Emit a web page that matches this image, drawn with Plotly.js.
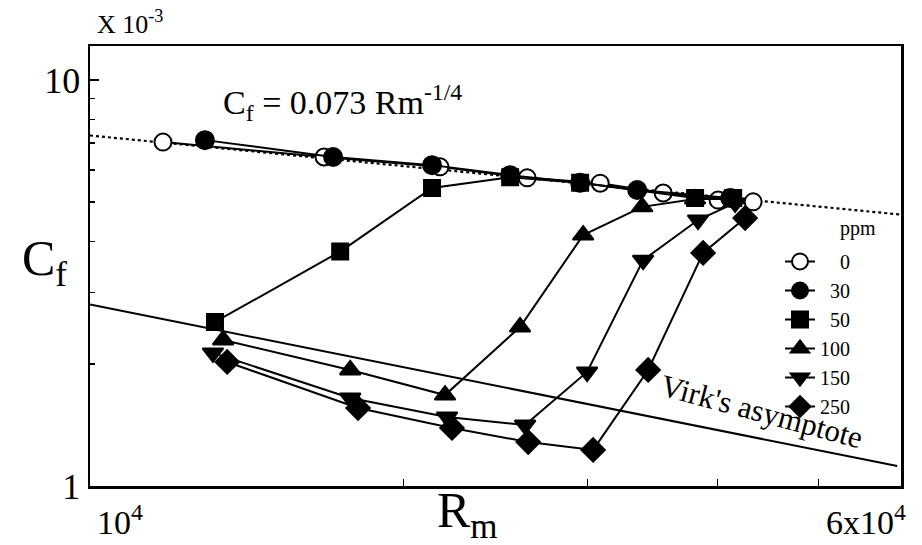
<!DOCTYPE html>
<html>
<head>
<meta charset="utf-8">
<script src="https://cdn.plot.ly/plotly-3.0.1.min.js"></script>
<style>html,body{margin:0;padding:0;background:#fff;}#chart{width:922px;height:545px;}</style>
</head>
<body>
<div id="chart"></div>
<script>
// ---- data (Rm, Cf x 10^-3) ----
const seriesNames = ['0', '30', '50', '100', '150', '250'];
const rm0   = [11750, 16770, 21670, 26270, 30870, 35480, 40050, 43280];
const cf0   = [7.03, 6.46, 6.11, 5.74, 5.57, 5.27, 5.06, 5.01];
const rm30  = [12890, 17110, 21290, 25300, 29530, 33500, 41140];
const cf30  = [7.11, 6.46, 6.17, 5.83, 5.58, 5.36, 5.12];
const rm50  = [13180, 17380, 21290, 25300, 29530, 38070, 41410];
const cf50  = [2.535, 3.78, 5.42, 5.76, 5.58, 5.12, 5.12];
const rm100 = [13420, 17770, 21910, 25860, 29730, 33870, 38070, 41410];
const cf100 = [2.289, 1.931, 1.675, 2.464, 4.15, 4.87, 5.09, 5.09];
const rm150 = [13120, 17770, 22010, 26150, 29990, 33940, 38320, 41590];
const cf150 = [2.127, 1.647, 1.479, 1.413, 1.909, 3.60, 4.52, 4.98];
const rm250 = [13540, 18080, 22250, 26330, 30390, 34320, 38750, 42520];
const cf250 = [2.021, 1.556, 1.390, 1.283, 1.227, 1.931, 3.75, 4.57];
// reference lines (end points)
const fitRm  = [10000, 60000];
const fitCf  = [7.30, 4.66];
const virkRm = [10000, 59500];
const virkCf = [2.80, 1.12];
const yTickVals = [1, 10];
const yTickText = ['1', '10'];
const yMinorVals = [2, 3, 4, 5, 6, 7, 8, 9];
const xTickVals = [20000, 30000, 40000, 50000];

// ---- layout helpers ----
const L = 90, R = 901, T = 46, B = 486;
const px = v => (v - L) / (R - L);
const py = v => (B - v) / (B - T);
const FONT = '"Liberation Serif", "DejaVu Serif", serif';

const symbols = ['circle', 'circle', 'square', 'triangle-up', 'triangle-down', 'diamond'];
const fills = ['#fff', '#000', '#000', '#000', '#000', '#000'];
const sizes = [17, 18, 16, 18, 18, 18];
const xs = [rm0, rm30, rm50, rm100, rm150, rm250];
const ys = [cf0, cf30, cf50, cf100, cf150, cf250];
const pads = ['\u00a0\u00a0\u00a0\u00a0', '\u00a0\u00a0', '\u00a0\u00a0', '', '', ''];

const traces = [
  {x: fitRm, y: fitCf, mode: 'lines', line: {color: '#000', width: 2.2, dash: 'dot'}, showlegend: false, hoverinfo: 'skip'},
  {x: virkRm, y: virkCf, mode: 'lines', line: {color: '#000', width: 2}, showlegend: false, hoverinfo: 'skip'}
];
for (let i = 0; i < 6; i++) {
  traces.push({
    x: xs[i], y: ys[i], mode: 'lines+markers', name: pads[i] + seriesNames[i],
    line: {color: '#000', width: 2},
    marker: {symbol: symbols[i], size: sizes[i], color: fills[i], line: {color: '#000', width: 2}}
  });
}

const layout = {
  width: 922, height: 545,
  margin: {l: L, r: 922 - R, t: T, b: 545 - B},
  paper_bgcolor: '#fff', plot_bgcolor: '#fff',
  font: {family: FONT, color: '#000', size: 18},
  showlegend: true,
  legend: {x: px(780), y: py(242), xanchor: 'left', yanchor: 'top', bgcolor: 'rgba(0,0,0,0)',
           font: {family: FONT, size: 20, color: '#000'}, tracegroupgap: 0, itemwidth: 30},
  xaxis: {type: 'log', range: [4, Math.log10(60000)], showgrid: false, zeroline: false,
          showline: true, linecolor: '#000', linewidth: 2.5, mirror: true,
          ticks: 'inside', ticklen: 7, tickwidth: 1.5, tickcolor: '#000',
          tickvals: xTickVals, showticklabels: false},
  yaxis: {type: 'log', range: [0, 1.0837], showgrid: false, zeroline: false,
          showline: true, linecolor: '#000', linewidth: 2.5, mirror: true,
          ticks: 'inside', ticklen: 9, tickwidth: 1.5, tickcolor: '#000',
          tickvals: yTickVals, ticktext: yTickText,
          minor: {tickvals: yMinorVals, ticks: 'inside', ticklen: 5, tickwidth: 1.5, tickcolor: '#000', showgrid: false},
          tickfont: {family: FONT, size: 36, color: '#000'}},
  annotations: [
    {xref: 'paper', yref: 'paper', x: px(95), y: py(22), xanchor: 'left', yanchor: 'middle', showarrow: false,
     text: 'X 10<sup>-3</sup>', font: {family: FONT, size: 26}},
    {xref: 'paper', yref: 'paper', x: px(44), y: py(262), xanchor: 'center', yanchor: 'middle', showarrow: false,
     text: 'C<sub>f</sub>', font: {family: FONT, size: 50}},
    {xref: 'paper', yref: 'paper', x: px(467), y: py(548), xanchor: 'center', yanchor: 'bottom', showarrow: false,
     text: 'R<sub>m</sub>', font: {family: FONT, size: 50}},
    {xref: 'paper', yref: 'paper', x: px(95), y: py(497), xanchor: 'left', yanchor: 'top', showarrow: false,
     text: '10<sup>4</sup>', font: {family: FONT, size: 34}},
    {xref: 'paper', yref: 'paper', x: px(908), y: py(497), xanchor: 'right', yanchor: 'top', showarrow: false,
     text: '6x10<sup>4</sup>', font: {family: FONT, size: 34}},
    {xref: 'paper', yref: 'paper', x: px(221), y: py(103), xanchor: 'left', yanchor: 'middle', showarrow: false,
     text: 'C<sub>f</sub> = 0.073 Rm<sup>-1/4</sup>', font: {family: FONT, size: 34}},
    {xref: 'paper', yref: 'paper', x: px(762), y: py(411), xanchor: 'center', yanchor: 'middle', showarrow: false,
     textangle: 15, text: "Virk's asymptote", font: {family: FONT, size: 31}},
    {xref: 'paper', yref: 'paper', x: px(858), y: py(228), xanchor: 'center', yanchor: 'middle', showarrow: false,
     text: 'ppm', font: {family: FONT, size: 20}}
  ]
};

Plotly.newPlot('chart', traces, layout, {staticPlot: true, displayModeBar: false});
</script>
</body>
</html>
